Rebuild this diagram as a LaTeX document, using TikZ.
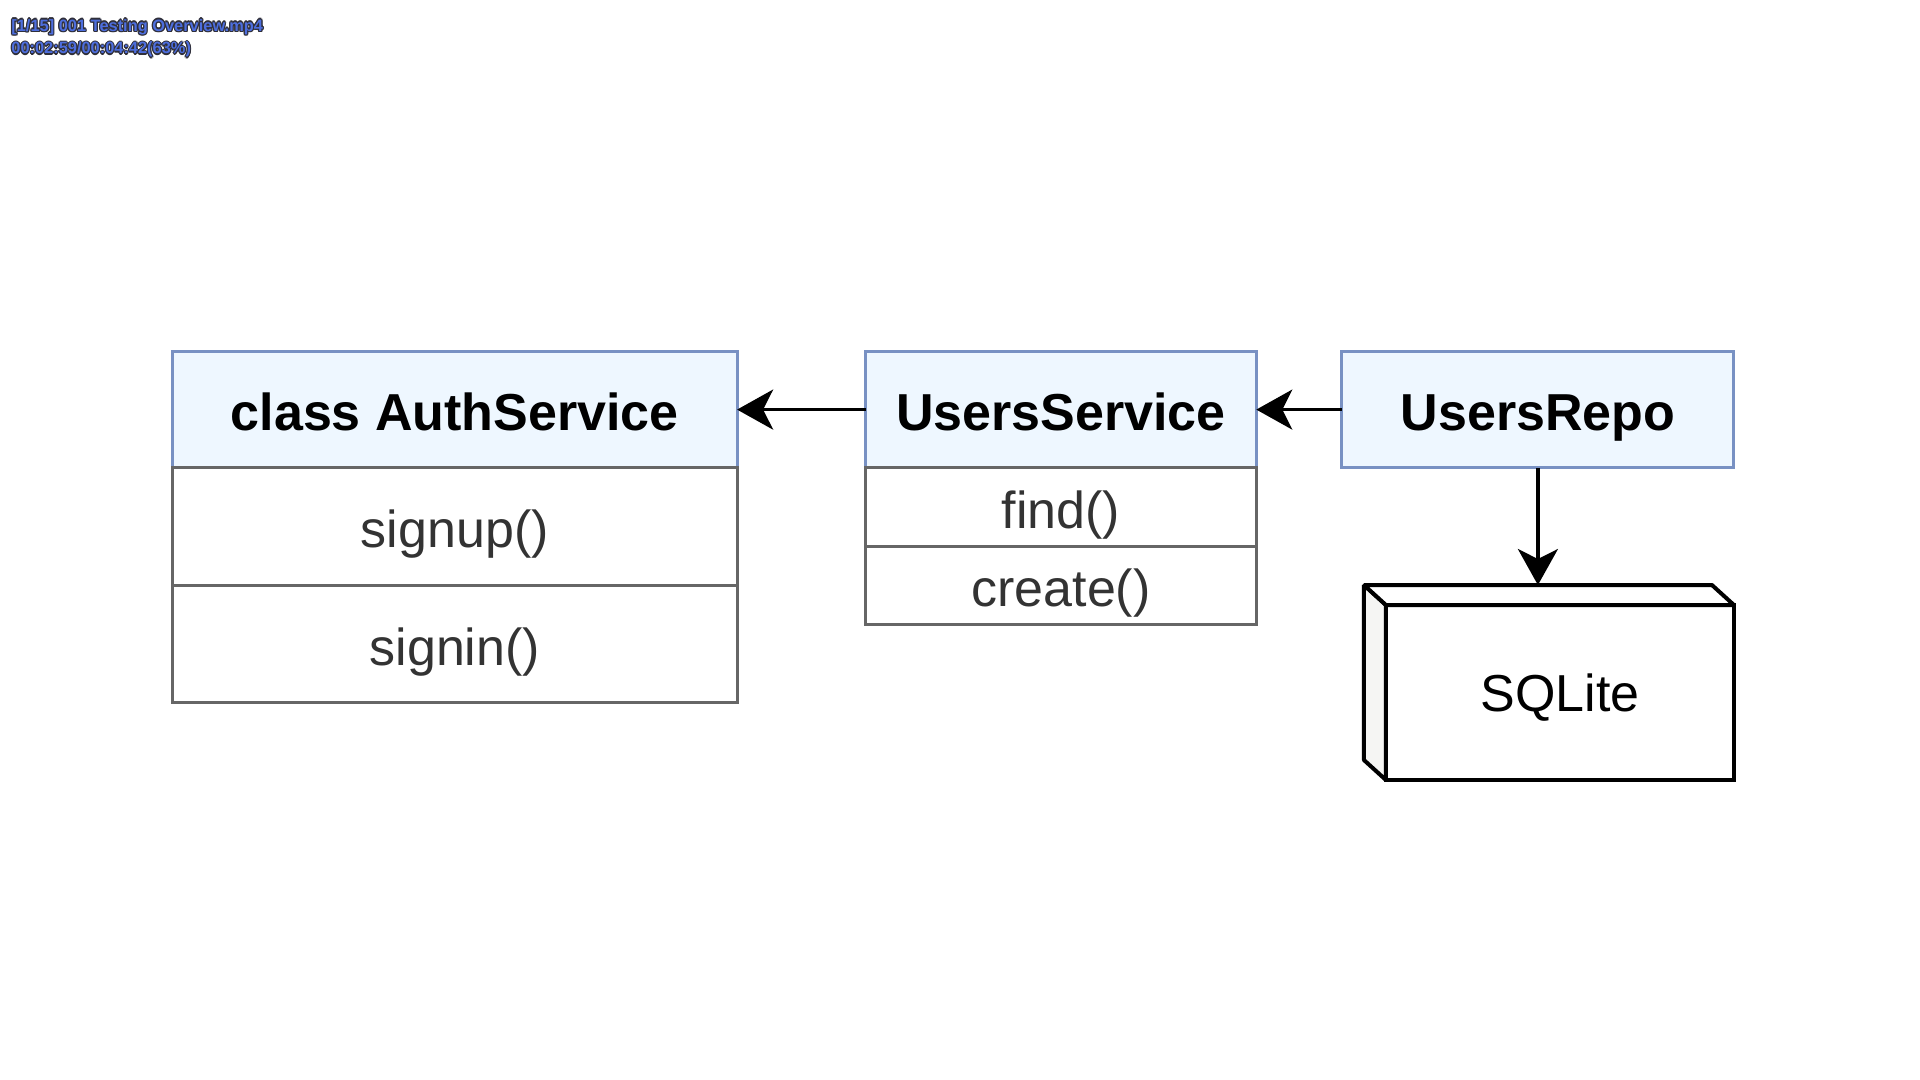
\documentclass[tikz,border=0pt]{standalone}
\usepackage{fontspec}
\setmainfont{Liberation Sans}
\usepackage{xcolor}
\usetikzlibrary{shapes,arrows.meta,positioning,calc}

\definecolor{headfill}{HTML}{EEF7FF}
\definecolor{headline}{HTML}{7891C3}
\definecolor{rowline}{HTML}{666666}
\definecolor{rowtext}{HTML}{333333}
\definecolor{sidefill}{HTML}{F5F5F3}
\definecolor{osdblue}{HTML}{4D6EDE}
\definecolor{osdline}{HTML}{2F2F3A}

% outlined player caption
\newcommand{\osdcopy}[3]{\rlap{\hspace{#1}\raisebox{#2}{\textcolor{osdline}{#3}}}}
\newcommand{\osdtext}[1]{\leavevmode
  \osdcopy{-0.6pt}{0pt}{#1}\osdcopy{0.6pt}{0pt}{#1}%
  \osdcopy{0pt}{0.6pt}{#1}\osdcopy{0pt}{-0.6pt}{#1}%
  \osdcopy{-0.45pt}{-0.45pt}{#1}\osdcopy{0.45pt}{0.45pt}{#1}%
  \osdcopy{-0.45pt}{0.45pt}{#1}\osdcopy{0.45pt}{-0.45pt}{#1}%
  \textcolor{osdblue}{#1}}

\begin{document}
\begin{tikzpicture}[
    x=1pt, y=1pt,
    node distance=0pt,
    header/.style={rectangle, draw=headline, fill=headfill, line width=1.5pt, outer sep=0pt, minimum height=58.2pt, inner sep=0pt, text height=21pt, text depth=0pt, font=\fontsize{26}{30}\selectfont\bfseries},
    method/.style={rectangle, draw=rowline, fill=white, line width=1.5pt, outer sep=0pt, inner sep=0pt, text height=21pt, text depth=0pt, text=rowtext, font=\fontsize{26}{30}\selectfont},
    store/.style={rectangle, draw=black, fill=white, line width=2pt, outer sep=0pt, minimum width=174pt, minimum height=87.5pt, inner sep=0pt, text height=18.6pt, text depth=0pt, font=\fontsize{26}{30}\selectfont},
    arrow/.style={-{Stealth[length=18pt, width=20pt, inset=5pt]}, line width=1.6pt},
    osd/.style={anchor=base west, inner sep=0pt, font=\fontsize{8.2}{10}\selectfont\bfseries},
]
    \fill[white] (0,0) rectangle (960,-540);
    \useasboundingbox (0,0) rectangle (960,-540);

    % class boxes
    \node[header, minimum width=282.3pt] (auth) at (227.4,-204.8) {class AuthService};
    \node[method, minimum width=282.3pt, minimum height=58.75pt, below=of auth] (signup) {signup()};
    \node[method, minimum width=282.3pt, minimum height=58.75pt, below=of signup] (signin) {signin()};

    \node[header, minimum width=195.3pt, right=64.3pt of auth] (users) {UsersService};
    \node[method, minimum width=195.3pt, minimum height=39.2pt, below=of users] (find) {find()};
    \node[method, minimum width=195.3pt, minimum height=39.2pt, below=of find] (create) {create()};

    \node[header, minimum width=196pt, right=42.8pt of users] (repo) {UsersRepo};

    % database
    \node[store, below=68.6pt of repo, xshift=11pt] (sqlite) {SQLite};
    \draw[line width=2pt, line join=bevel, fill=sidefill] (sqlite.north west) -- ++(-11,10) coordinate (backnw) -- ($(sqlite.south west)+(-11,10)$) -- (sqlite.south west) -- cycle;
    \draw[line width=2pt, line join=bevel, fill=white] (sqlite.north west) -- (backnw) -- ($(sqlite.north east)+(-11,10)$) -- (sqlite.north east) -- cycle;
    \coordinate (dbtop) at ($(sqlite.north)+(-11,10)$);

    \draw[arrow] (users) -- (auth);
    \draw[arrow] (repo) -- (users);
    \draw[arrow] (repo) -- (dbtop);

    % player caption
    \node[osd] (osdname) at (5.5,-15.6) {\osdtext{[1/15] 001 Testing Overview.mp4}};
    \node[osd] (osdtime) at (5.5,-27) {\osdtext{00:02:59/00:04:42(63\%)}};
\end{tikzpicture}
\end{document}
